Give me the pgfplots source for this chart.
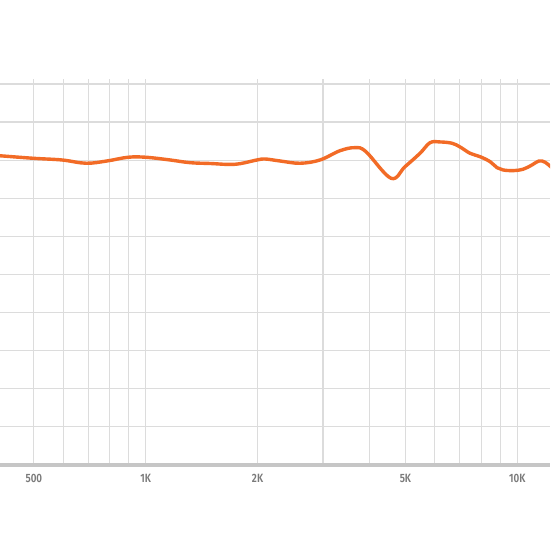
\documentclass[border=0pt]{standalone}
\usepackage{fontspec}
\setmainfont{Fira Sans}
\newfontfamily\tickfont[FakeStretch=0.82]{Fira Sans SemiBold}
\usepackage{pgfplots}
\pgfplotsset{compat=1.18}
\definecolor{fr}{HTML}{F26B26}
\definecolor{gridgray}{HTML}{DCDCDC}
\definecolor{axisgray}{HTML}{C6C6C6}
\definecolor{labelgray}{HTML}{7A7A7A}

\begin{document}
\begin{tikzpicture}
\clip (0,-85pt) rectangle (550pt,465pt);
\fill[white] (0,-85pt) rectangle (550pt,465pt);
\begin{axis}[
  at={(0,0)}, anchor=south west,
  scale only axis,
  width=550pt, height=386pt,
  xmode=log,
  xmin=405.4, xmax=12245,
  ymin=0, ymax=10.13,
  axis x line*=bottom,
  axis y line*=left,
  x axis line style={axisgray, line width=4pt, -},
  y axis line style={draw=none},
  xtick={500,1000,2000,5000,10000},
  xticklabels={500,1K,2K,5K,10K},
  minor xtick={600,700,800,900,3000,4000,6000,7000,8000,9000},
  ytick={1,2,...,10},
  yticklabels={},
  major tick length=0pt, minor tick length=0pt,
  xmajorgrids, xminorgrids, ymajorgrids,
  grid style={gridgray, line width=1.2pt},
  minor grid style={gridgray, line width=1.2pt},
  xticklabel style={font=\tickfont\fontsize{12}{12}\selectfont, text=labelgray, yshift=-6pt},
  log ticks with fixed point,
  clip=false,
]
\addplot[fr, line width=3.4pt, smooth, tension=0.6] coordinates {
(400,8.12) (497,8.05) (595,8.005) (691,7.919) (787,7.979) (896,8.076)
(1002,8.076) (1163,8.005) (1316,7.934) (1489,7.913) (1739,7.892)
(1993,8.005) (2094,8.031) (2298,7.979) (2602,7.919) (2945,8.005)
(3334,8.249) (3659,8.328) (3915,8.223) (4572,7.525) (4986,7.829)
(5472,8.181) (5823,8.459) (6194,8.478) (6673,8.444) (7014,8.346) (7460,8.181)
(7936,8.092) (8446,7.961) (8818,7.803) (9152,7.743) (9737,7.725) (10360,7.761)
(10950,7.874) (11440,7.979) (11880,7.945) (12400,7.795)
};
\end{axis}
\end{tikzpicture}
\end{document}
